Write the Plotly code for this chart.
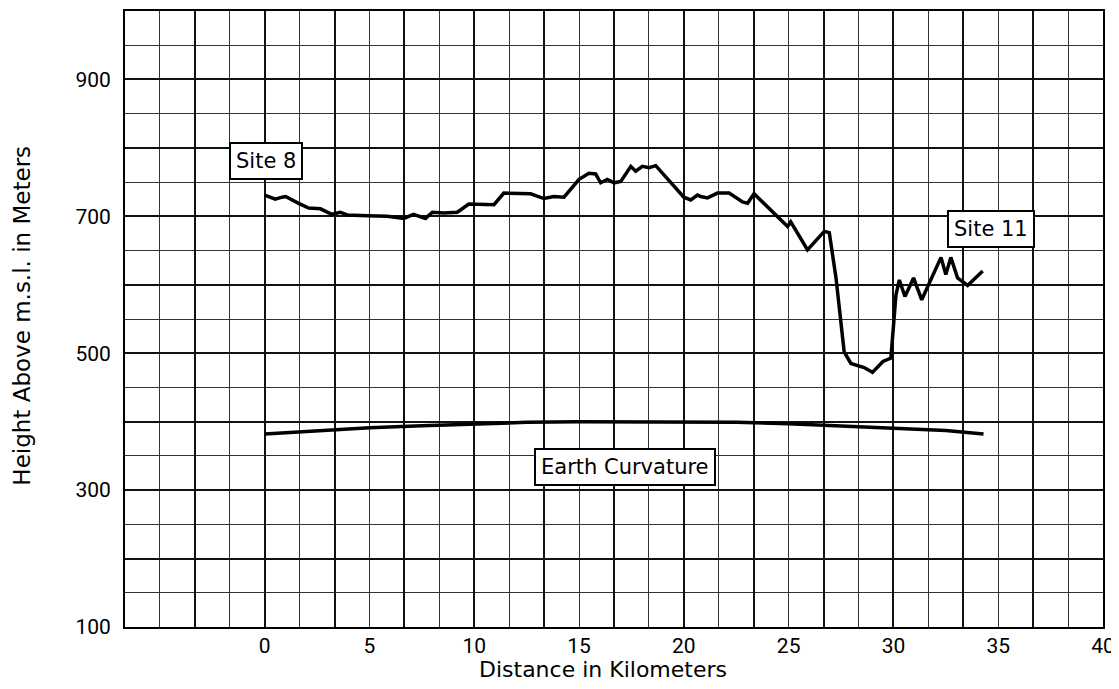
import plotly.graph_objects as go

# ---- data ----
profile_km = [0.0, 0.5, 0.83, 1.0, 1.62, 2.1, 2.66, 3.2, 3.6, 3.94, 4.9, 5.85, 6.64, 7.1, 7.67,
              8.0, 8.55, 9.19, 9.74, 10.94, 11.41, 12.69, 13.32, 13.8, 14.28, 15.0, 15.47, 15.79,
              16.03, 16.35, 16.67, 16.99, 17.47, 17.7, 18.02, 18.34, 18.66, 18.9, 19.53, 20.0,
              20.33, 20.65, 20.8, 21.13, 21.6, 22.16, 22.8, 23.04, 23.35, 23.83, 24.47, 24.95,
              25.1, 25.9, 26.7, 26.94, 27.26, 27.65, 27.97, 28.6, 29.0, 29.5, 29.88, 30.12,
              30.28, 30.55, 30.96, 31.35, 32.27, 32.5, 32.74, 33.06, 33.54, 34.26]
profile_m = [731, 725, 728, 729, 719, 712, 711, 703, 706, 702, 701, 700, 697, 703, 697,
             706, 705, 706, 718, 717, 734, 733, 726, 729, 728, 754, 763, 762,
             749, 754, 749, 751, 773, 766, 773, 771, 774, 766, 744, 728,
             724, 731, 729, 727, 734, 734, 721, 719, 733, 719, 700, 685,
             692, 651, 678, 676, 610, 502, 485, 479, 472, 488, 493, 585,
             607, 583, 610, 578, 640, 615, 640, 610, 599, 620]

curv_km = [0.0, 2.5, 5.0, 7.5, 10.0, 12.5, 15.0, 17.5, 20.0, 22.5, 25.0, 27.5, 30.0, 32.5, 34.3]
curv_m = [382, 387, 391, 394, 397, 399, 400, 400, 400, 399, 397, 394, 391, 387, 382]

x_tick_vals = [0, 5, 10, 15, 20, 25, 30, 35, 40]
y_tick_vals = [100, 200, 300, 400, 500, 600, 700, 800, 900, 1000]
y_tick_text = ["100", "", "300", "", "500", "", "700", "", "900", ""]

labels = ["Site 8", "Site 11", "Earth Curvature"]
label_x = [0.07, 34.66, 17.2]
label_y = [781, 682, 334]

X_RANGE = [-20 / 3, 40]
Y_RANGE = [100, 1000]

fig = go.Figure()
fig.add_trace(go.Scatter(x=profile_km, y=profile_m, mode="lines",
                         line=dict(color="black", width=3.5), showlegend=False, hoverinfo="skip"))
fig.add_trace(go.Scatter(x=curv_km, y=curv_m, mode="lines", xaxis="x2",
                         line=dict(color="black", width=3.5), showlegend=False, hoverinfo="skip"))

tick_font = dict(family="Roboto, sans-serif", size=21, color="black")
text_font = dict(family="DejaVu Sans, sans-serif", size=21, color="black")

for t, x, y in zip(labels, label_x, label_y):
    fig.add_annotation(x=x, y=y, text=t, showarrow=False, font=text_font,
                       bgcolor="white", bordercolor="black", borderwidth=2, borderpad=5)

fig.add_annotation(xref="paper", yref="paper", x=0.489, y=-0.069, text="Distance in Kilometers",
                   showarrow=False, font=dict(family="DejaVu Sans, sans-serif", size=22, color="black"),
                   xanchor="center", yanchor="middle")
fig.add_annotation(xref="paper", yref="paper", x=-0.1056, y=0.505, text="Height Above m.s.l. in Meters",
                   showarrow=False, textangle=-90,
                   font=dict(family="DejaVu Sans, sans-serif", size=23, color="black"),
                   xanchor="center", yanchor="middle")

fig.update_layout(
    width=1111, height=681,
    margin=dict(l=117, r=16, t=1, b=62),
    paper_bgcolor="white", plot_bgcolor="white",
    xaxis=dict(range=X_RANGE, tick0=0, dtick=10 / 3, showticklabels=False, ticks="",
               showgrid=True, gridcolor="#111111", gridwidth=2, zeroline=False,
               minor=dict(dtick=5 / 3, tick0=0, showgrid=True, gridcolor="#333333", gridwidth=1),
               showline=True, linecolor="black", linewidth=2, mirror=True),
    xaxis2=dict(range=X_RANGE, overlaying="x", anchor="y", side="bottom",
                tickmode="array", tickvals=x_tick_vals, ticks="", showgrid=False, zeroline=False,
                tickfont=tick_font, ticklabelstandoff=4),
    yaxis=dict(range=Y_RANGE, tickmode="array", tickvals=y_tick_vals, ticktext=y_tick_text,
               ticks="", tickfont=tick_font, ticklabelstandoff=8,
               showgrid=True, gridcolor="#111111", gridwidth=2, zeroline=False,
               minor=dict(dtick=50, tick0=100, showgrid=True, gridcolor="#333333", gridwidth=1),
               showline=True, linecolor="black", linewidth=2, mirror=True),
)

fig.write_html("out.html")
